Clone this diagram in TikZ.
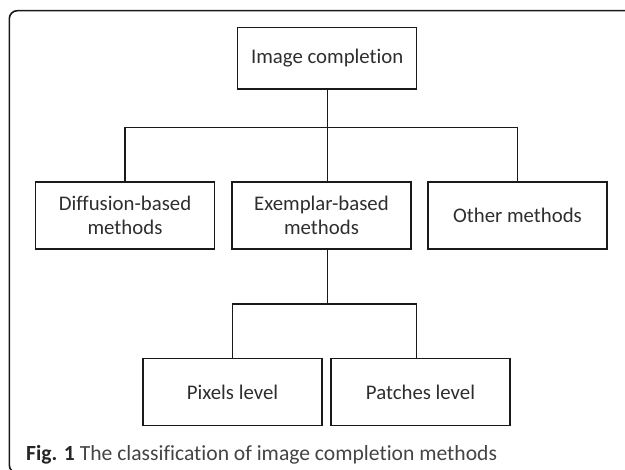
\documentclass[tikz,border=0pt]{standalone}
\usepackage{fontspec}
\setmainfont{Carlito}[Ligatures=NoCommon]
\newfontfamily\capfont{Carlito}[Ligatures=NoCommon]
\definecolor{linecol}{HTML}{1A1A1A}
\definecolor{txtcol}{HTML}{2E2E2E}
\definecolor{capcol}{HTML}{444444}
\begin{document}
\begin{tikzpicture}[x=1pt,y=-1pt,
  catbox/.style={draw=linecol,line width=1.4pt,rectangle,minimum width=179pt,minimum height=67pt,
    inner sep=0pt,align=center,text=txtcol,font=\fontsize{20.8}{24}\selectfont},
  conn/.style={draw=linecol,line width=1.4pt}]
\useasboundingbox (0,0) rectangle (625,470);
% outer frame
\begin{scope}
\clip (0,0) rectangle (625,470);
\draw[linecol,line width=1.6pt,rounded corners=8pt] (9.3,10.7) rectangle (660,473);
\end{scope}
% nodes
\node[catbox,minimum height=61.3pt] (top) at (327.2,58.35) {Image completion};
\node[catbox] (dif) at (125,215.7) {Diffusion-based\\methods};
\node[catbox] (exe) at (321.5,215.7) {Exemplar-based\\methods};
\node[catbox] (oth) at (517.5,215.7) {Other methods};
\node[catbox] (pix) at (232.5,392) {Pixels level};
\node[catbox] (pat) at (420.5,392) {Patches level};
% connectors
\coordinate (b1l) at (125,127.3);
\coordinate (b1r) at (517.5,127.3);
\coordinate (s1) at (327.2,127.3);
\coordinate (b2l) at (232.5,304);
\coordinate (b2r) at (416.3,304);
\coordinate (s2) at (327.2,304);
\draw[conn] (top.south) -- (top.south |- exe.north);
\draw[conn] (dif.north) -- (b1l) -- (b1r) -- (oth.north);
\draw[conn] (exe.south -| s2) -- (s2);
\draw[conn] (pix.north) -- (b2l) -- (b2r) -- (b2r |- pat.north);
% caption
\node[anchor=base west,inner sep=0pt,text=capcol,font=\capfont\fontsize{21.6}{24}\selectfont] (cap) at (26,461)
  {{\color{black!85}\bfseries Fig. 1} The classification of image completion methods};
\end{tikzpicture}
\end{document}
